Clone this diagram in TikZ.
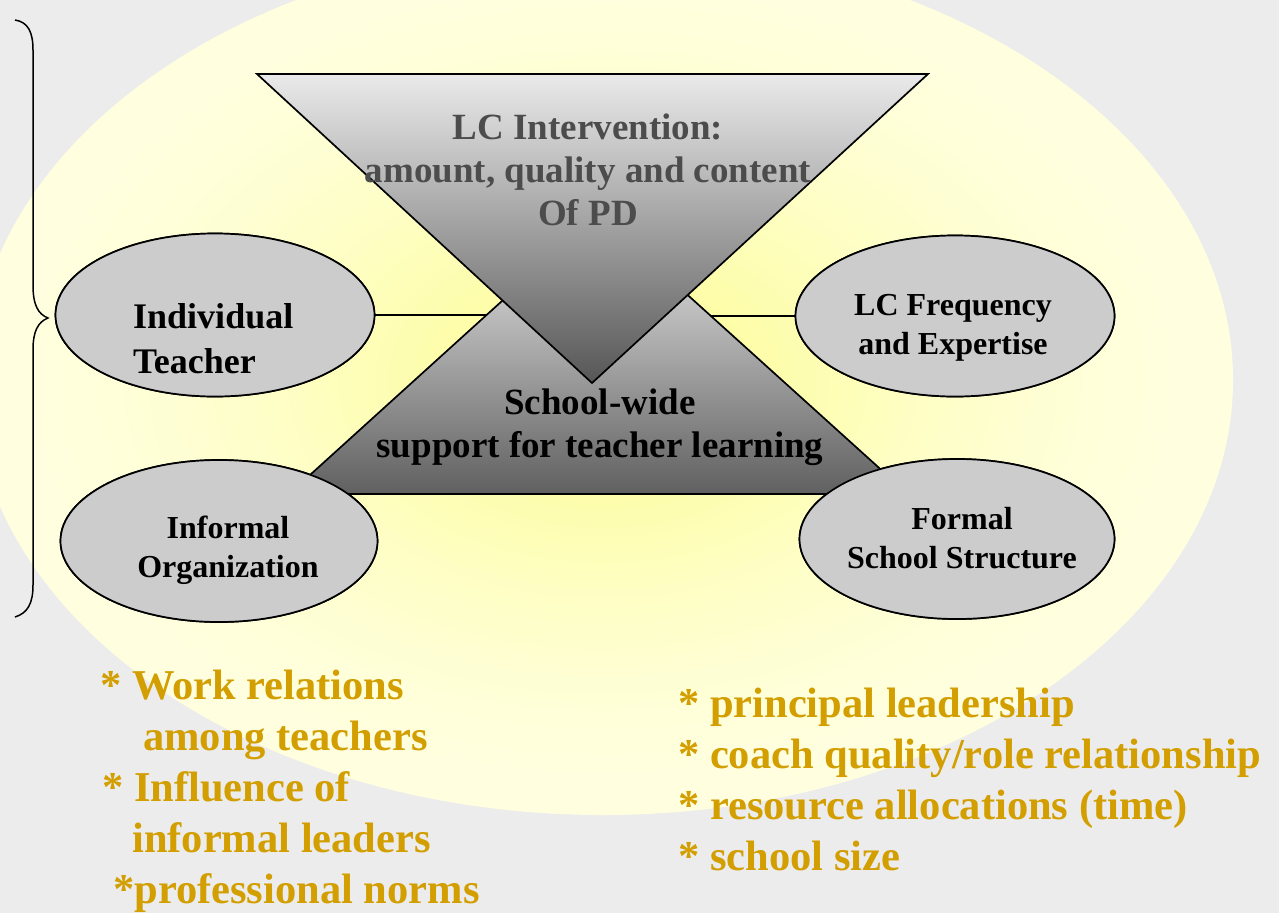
\documentclass[tikz,border=0pt]{standalone}
\usepackage{fontspec}
\setmainfont{Liberation Serif}
\usetikzlibrary{shapes.geometric}

\definecolor{paper}{RGB}{236,236,236}
\definecolor{glowIn}{RGB}{252,252,135}
\definecolor{glowOut}{RGB}{255,255,224}
\definecolor{ovalFill}{RGB}{204,204,204}
\definecolor{triLight}{RGB}{234,234,234}
\definecolor{triDark}{RGB}{96,96,96}
\definecolor{capGrey}{RGB}{76,76,76}
\definecolor{gold}{RGB}{210,158,0}

\tikzset{
  oval/.style={ellipse, draw=black, line width=1.7pt, fill=ovalFill, inner sep=0pt},
  tri/.style={draw=black, line width=1.7pt},
  link/.style={draw=black, line width=1.7pt},
  bigtext/.style={font=\bfseries\fontsize{37}{43}\selectfont, align=center, anchor=base},
  ovaltext/.style={font=\bfseries\fontsize{32}{39}\selectfont, align=center, anchor=base},
  notes/.style={font=\bfseries\fontsize{42.5}{51}\selectfont, text=gold, align=left,
    anchor=base west, inner sep=0pt},
}

\begin{document}
\begin{tikzpicture}[x=1pt, y=-1pt]
  \useasboundingbox (0,0) rectangle (1279,913);
  \fill[paper] (0,0) rectangle (1279,913);

  % soft yellow halo: nested discs brightening towards the middle
  \foreach \k in {0,...,47}{
    \pgfmathsetmacro\rr{1-\k/50}
    \pgfmathtruncatemacro\pp{100*(\k/50)^1.6}
    \fill[glowIn!\pp!glowOut] (603,380) ellipse [x radius={\rr*630pt}, y radius={\rr*435pt}];
  }

  % brace on the left
  \draw[line width=1.5pt] (15,20) .. controls (28,22) and (33,32) .. (33,50)
    -- (33,285) .. controls (33,305) and (38,314) .. (48,318)
    .. controls (38,322) and (33,331) .. (33,350)
    -- (33,585) .. controls (33,603) and (28,613) .. (15,617);

  % triangle corners
  \coordinate (itl) at (257,74);
  \coordinate (itr) at (928,74);
  \coordinate (iap) at (592,383);
  \coordinate (ubl) at (289,494);
  \coordinate (ubr) at (908,494);
  \coordinate (uap) at (598,214);

  % side ovals
  \node[oval, minimum width=319pt, minimum height=163pt] (ind) at (215,315) {};
  \node[oval, minimum width=319pt, minimum height=161pt] (lcf) at (955,316) {};
  \node[oval, minimum width=317pt, minimum height=162pt] (inf) at (219,541) {};
  \node[oval, minimum width=315pt, minimum height=160pt] (fss) at (957,539) {};

  % connectors into the triangles (ends hidden beneath them)
  \path[link] (ind.east) -- (ind.east -| iap);
  \path[link] (lcf.west) -- (lcf.west -| iap);

  % school-wide support triangle
  \path[tri, top color=triLight!80!white, bottom color=triDark] (ubl) -- (uap) -- (ubr) -- cycle;
  % LC intervention triangle
  \path[tri, top color=triLight, bottom color=triDark!90!black] (itl) -- (itr) -- (iap) -- cycle;

  % ovals drawn again above the triangles
  \node[oval, minimum width=319pt, minimum height=163pt] at (ind) {};
  \node[oval, minimum width=319pt, minimum height=161pt] at (lcf) {};
  \node[oval, minimum width=317pt, minimum height=162pt] at (inf) {};
  \node[oval, minimum width=315pt, minimum height=160pt] at (fss) {};

  % triangle captions (placed by the baseline of their last line)
  \node[bigtext, text=capGrey] (lci) at (588,225)
    {LC Intervention:\\amount, quality and content\\Of PD};
  \node[bigtext] (swl) at (600,457) {School-wide\\support for teacher learning};

  % oval captions
  \node[font=\bfseries\fontsize{36}{45}\selectfont, align=left, anchor=base west, inner sep=0pt]
    (indtxt) at (133,373) {Individual\\Teacher};
  \node[ovaltext] (lcftxt) at (953,354) {LC Frequency\\and Expertise};
  \node[ovaltext] (inftxt) at (228,577) {Informal\\Organization};
  \node[ovaltext] (fsstxt) at (962,568) {Formal\\School Structure};

  % factor lists
  \node[notes] (leftlist) at (100,903)
    {* Work relations\\
     \hspace*{43pt}among teachers\\
     \hspace*{2pt}* Influence of\\
     \hspace*{32pt}informal leaders\\
     \hspace*{13pt}*professional norms};
  \node[notes] (rightlist) at (678,870)
    {* principal leadership\\
     * coach quality/role relationship\\
     * resource allocations (time)\\
     * school size};
\end{tikzpicture}
\end{document}
